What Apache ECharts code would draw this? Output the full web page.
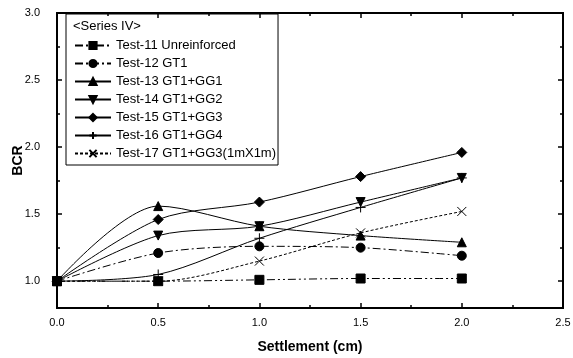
<!DOCTYPE html>
<html>
<head>
<meta charset="utf-8">
<script src="https://cdn.jsdelivr.net/npm/echarts@6/dist/echarts.min.js"></script>
<style>
  html, body { margin: 0; padding: 0; background: #fff; }
  #chart { width: 573px; height: 358px; }
</style>
</head>
<body>
<div id="chart"></div>
<script>
var settlement = [0, 0.5, 1.0, 1.5, 2.0];
var test11 = [1.0, 1.0, 1.01, 1.02, 1.02];
var test12 = [1.0, 1.21, 1.26, 1.25, 1.19];
var test13 = [1.0, 1.56, 1.41, 1.34, 1.29];
var test14 = [1.0, 1.34, 1.41, 1.59, 1.77];
var test15 = [1.0, 1.46, 1.59, 1.78, 1.96];
var test16 = [1.0, 1.05, 1.32, 1.55, 1.77];
var test17 = [1.0, 1.0, 1.15, 1.36, 1.52];
var legendNames = ["Test-11 Unreinforced", "Test-12 GT1", "Test-13 GT1+GG1", "Test-14 GT1+GG2",
    "Test-15 GT1+GG3", "Test-16 GT1+GG4", "Test-17 GT1+GG3(1mX1m)"];
var yMajor = [1.0, 1.5, 2.0, 2.5, 3.0];
var yMinor = [1.25, 1.75, 2.25, 2.75];

var font = "Liberation Sans, Arial, sans-serif";

function pairs(vals) {
    return vals.map(function (v, i) { return [settlement[i], v]; });
}

function line(name, vals, symbol, dash, extra) {
    var s = {
        name: name,
        type: 'line',
        smooth: 0.3,
        symbol: symbol,
        symbolSize: 9,
        lineStyle: { color: '#000', width: 1, type: dash },
        itemStyle: { color: '#000', borderColor: '#000', borderWidth: 1 },
        data: pairs(vals)
    };
    for (var k in extra) s[k] = extra[k];
    return s;
}

var chart = echarts.init(document.getElementById('chart'));
var tickY = function (vals, len, pos, label, name) {
    return {
        type: 'value', position: pos, min: 0.8, max: 3.0,
        name: name || '', nameLocation: 'middle', nameGap: 32, nameMoveOverlap: false,
        nameTextStyle: { fontFamily: font, fontSize: 14, fontWeight: 'bold', color: '#000' },
        axisLine: { show: true, lineStyle: { color: '#000', width: 2 } },
        axisTick: { show: true, inside: true, length: len, customValues: vals, lineStyle: { color: '#000', width: 1.5 } },
        axisLabel: label ? { show: true, customValues: vals, margin: 17, color: '#000', fontFamily: font, fontSize: 11, formatter: function (v) { return v.toFixed(1); } } : { show: false },
        splitLine: { show: false }
    };
};
var xAx = function (pos, label) {
    return {
        type: 'value', position: pos, min: 0, max: 2.5, interval: 0.5,
        name: label ? 'Settlement (cm)' : '', nameLocation: 'middle', nameGap: 32,
        nameTextStyle: { fontFamily: font, fontSize: 14, fontWeight: 'bold', color: '#000' },
        axisLine: { show: true, lineStyle: { color: '#000', width: 2 } },
        axisTick: { show: true, inside: true, length: 5, lineStyle: { color: '#000', width: 1.5 } },
        minorTick: { show: true, splitNumber: 2, length: 3, lineStyle: { color: '#000', width: 1.5 } },
        axisLabel: label ? { show: true, margin: 9, color: '#000', fontFamily: font, fontSize: 11, formatter: function (v) { return v.toFixed(1); } } : { show: false },
        splitLine: { show: false }
    };
};

var option = {
    animation: false,
    backgroundColor: '#fff',
    grid: { left: 57, right: 10, top: 13, bottom: 50, outerBoundsMode: 'none' },
    title: {
        text: '<Series IV>', left: 73, top: 20, padding: 0,
        textStyle: { fontFamily: font, fontSize: 13, fontWeight: 'normal', color: '#000' }
    },
    legend: {
        orient: 'vertical', left: 66, top: 14,
        borderColor: '#000', borderWidth: 1,
        padding: [25, 2, 5, 8],
        itemWidth: 36, itemHeight: 9, itemGap: 5,
        textStyle: { fontFamily: font, fontSize: 13, color: '#000' },
        data: legendNames
    },
    xAxis: [xAx('bottom', true), xAx('top', false)],
    yAxis: [
        tickY(yMajor, 5, 'left', true, 'BCR'),
        tickY(yMinor, 3, 'left', false),
        tickY(yMajor, 5, 'right', false),
        tickY(yMinor, 3, 'right', false)
    ],
    series: [
        line(legendNames[0], test11, 'rect', [8, 3, 2, 3, 2, 3]),
        line(legendNames[1], test12, 'circle', [8, 3, 2, 3]),
        line(legendNames[2], test13, 'triangle', 'solid'),
        line(legendNames[3], test14, 'triangle', 'solid', { symbolRotate: 180 }),
        line(legendNames[4], test15, 'diamond', 'solid', { symbolSize: 10 }),
        line(legendNames[5], test16, 'path://M5,0L5,10M0,5L10,5', 'solid', { symbolSize: 10 }),
        line(legendNames[6], test17, 'path://M0,0L10,10M10,0L0,10', [3, 2], { symbolSize: 9 })
    ]
};
chart.setOption(option);
</script>
</body>
</html>
